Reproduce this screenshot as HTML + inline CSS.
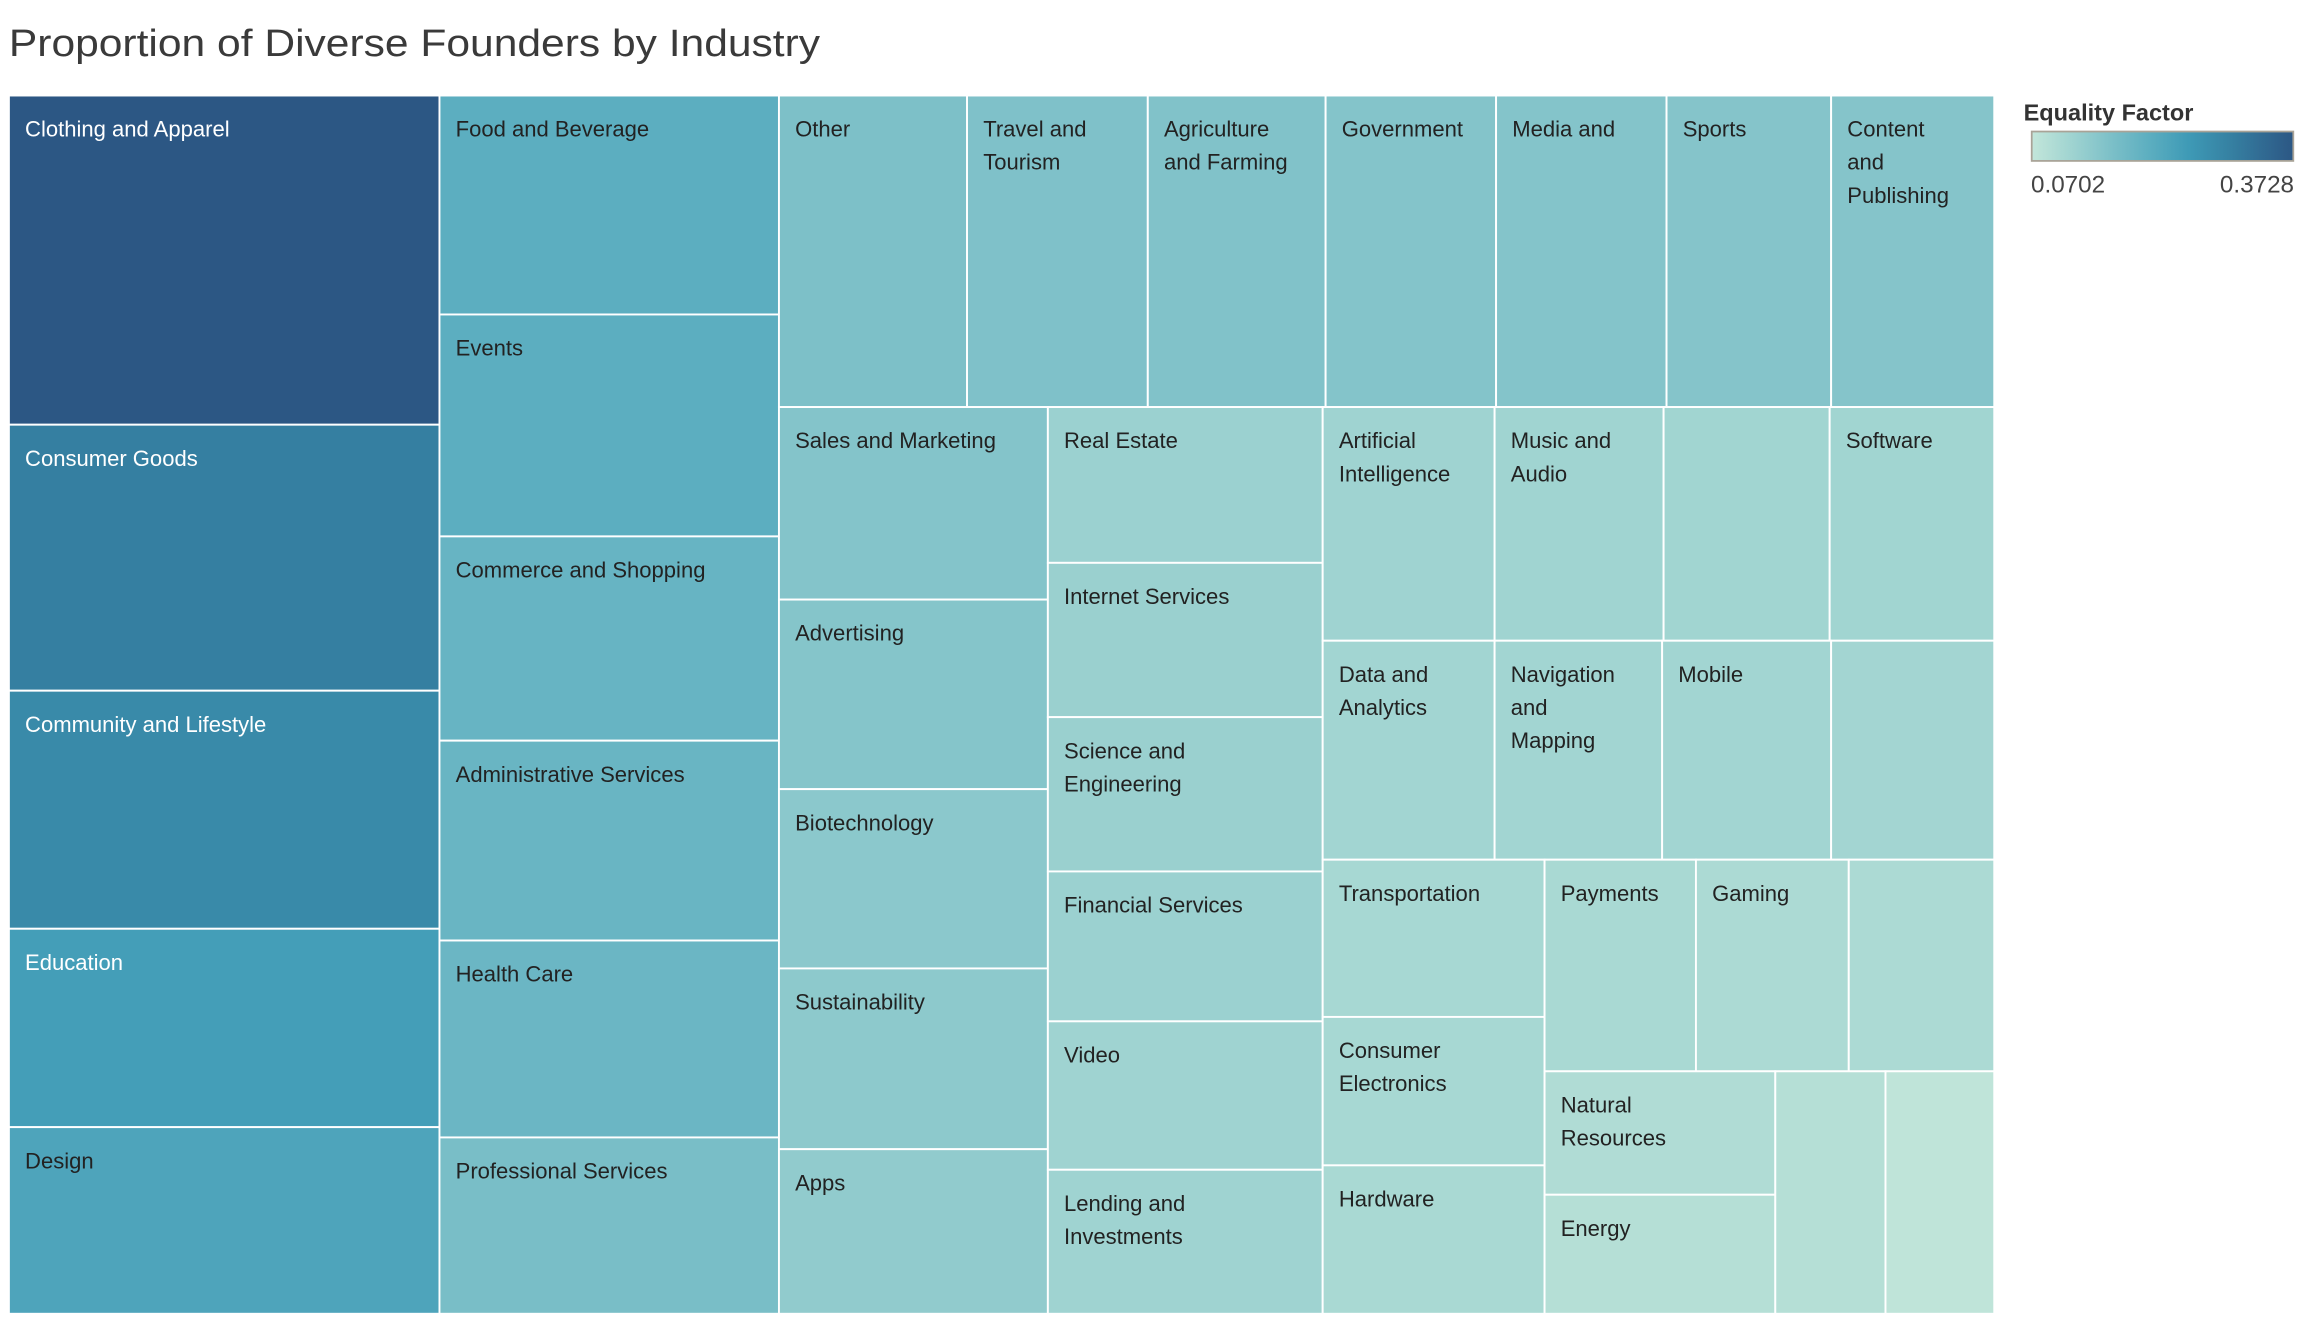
<!DOCTYPE html>
<html><head><meta charset="utf-8">
<style>
html,body{margin:0;padding:0;background:#fff;}
svg{display:block;font-family:"Liberation Sans","DejaVu Sans",sans-serif;}
</style></head>
<body>
<svg id="chart" width="2300" height="1322" viewBox="0 0 1565 899.6" xmlns="http://www.w3.org/2000/svg">
<text x="6" y="38" font-size="26" fill="#3a3a3a" font-weight="300" textLength="552" lengthAdjust="spacingAndGlyphs">Proportion of Diverse Founders by Industry</text>
<g id="tiles"></g>
<g>
<defs><linearGradient id="lg" x1="0" x2="1" y1="0" y2="0"></linearGradient></defs>
<text x="1377" y="82" font-size="16" font-weight="bold" fill="#333">Equality Factor</text>
<rect x="1382.5" y="89.5" width="178" height="20" fill="url(#lg)" stroke="#a9a397" stroke-width="1.2"/>
<text id="lmin" x="1382" y="131" font-size="16.5" fill="#444"></text>
<text id="lmax" x="1561" y="131" font-size="16.5" fill="#444" text-anchor="end"></text>
</g>
</svg>
<script>
const names = ["Clothing and Apparel","Consumer Goods","Community and Lifestyle","Education","Design",
"Food and Beverage","Events","Commerce and Shopping","Administrative Services","Health Care","Professional Services",
"Other","Travel and Tourism","Agriculture and Farming","Government","Media and Entertainment","Sports","Content and Publishing",
"Sales and Marketing","Advertising","Biotechnology","Sustainability","Apps",
"Real Estate","Internet Services","Science and Engineering","Financial Services","Video","Lending and Investments",
"Artificial Intelligence","Music and Audio","Privacy and Security","Software",
"Data and Analytics","Navigation and Mapping","Mobile","Information Technology",
"Transportation","Consumer Electronics","Hardware",
"Payments","Gaming","Manufacturing",
"Natural Resources","Energy","Platforms","Messaging"];
const labels = ["Clothing and Apparel","Consumer Goods","Community and Lifestyle","Education","Design",
"Food and Beverage","Events","Commerce and Shopping","Administrative Services","Health Care","Professional Services",
"Other","Travel and|Tourism","Agriculture|and Farming","Government","Media and","Sports","Content|and|Publishing",
"Sales and Marketing","Advertising","Biotechnology","Sustainability","Apps",
"Real Estate","Internet Services","Science and|Engineering","Financial Services","Video","Lending and|Investments",
"Artificial|Intelligence","Music and|Audio","","Software",
"Data and|Analytics","Navigation|and|Mapping","Mobile","",
"Transportation","Consumer|Electronics","Hardware",
"Payments","Gaming","",
"Natural|Resources","Energy","",""];
const sizes = [65632,53033,47466,39555,37211,
34419,34881,32109,31416,30954,27720,
27136,26076,25652,24592,24592,23744,23532,
23973,23607,22326,22509,20496,
19822,19635,19635,19074,18887,18326,
18603,18285,17967,17808,
17433,16986,17135,16539,
16157,15251,15251,
14832,14976,14256,
13188,12717,12375,12210];
const factors = [0.3728,0.303,0.282,0.243,0.228,
0.206,0.206,0.191,0.188,0.186,0.167,
0.161,0.158,0.156,0.152,0.152,0.151,0.151,
0.152,0.150,0.143,0.140,0.135,
0.122,0.124,0.124,0.122,0.117,0.117,
0.117,0.116,0.114,0.114,
0.113,0.113,0.113,0.112,
0.106,0.106,0.104,
0.104,0.100,0.100,
0.095,0.088,0.089,0.075];
const fMin = 0.0702, fMax = 0.3728;
const tree = {d:'h',k:[
 {d:'v',k:[0,1,2,3,4]},
 {d:'v',k:[5,6,7,8,9,10]},
 {d:'v',k:[
   {d:'h',k:[11,12,13,14,15,16,17]},
   {d:'h',k:[
     {d:'v',k:[18,19,20,21,22]},
     {d:'v',k:[23,24,25,26,27,28]},
     {d:'v',k:[
       {d:'h',k:[29,30,31,32]},
       {d:'h',k:[33,34,35,36]},
       {d:'h',k:[
         {d:'v',k:[37,38,39]},
         {d:'v',k:[
           {d:'h',k:[40,41,42]},
           {d:'h',k:[{d:'v',k:[43,44]},45,46]}
         ]}
       ]}
     ]}
   ]}
 ]}
]};
const stops=[[0,'#c3e6da'],[0.15,'#a0d4d1'],[0.3,'#7dc0c8'],[0.45,'#5caec0'],[0.6,'#3e9ab6'],[0.75,'#3682a3'],[0.88,'#316b93'],[1,'#2c5784']];
function hx(c){return [1,3,5].map(i=>parseInt(c.substr(i,2),16));}
function color(v){
  let t=Math.max(0,Math.min(1,(v-fMin)/(fMax-fMin)));
  for(let i=1;i<stops.length;i++){
    if(t<=stops[i][0]){
      const a=hx(stops[i-1][1]),b=hx(stops[i][1]);const u=(t-stops[i-1][0])/(stops[i][0]-stops[i-1][0]);
      return 'rgb('+a.map((x,j)=>Math.round(x+(b[j]-x)*u)).join(',')+')';
    }
  }
  return stops[stops.length-1][1];
}
function total(n){return typeof n==='number'?sizes[n]:n.k.reduce((s,c)=>s+total(c),0);}
const NS='http://www.w3.org/2000/svg';
const g=document.getElementById('tiles');
function layout(n,x,y,w,h){
  if(typeof n==='number'){draw(n,x,y,w,h);return;}
  const T=total(n);let off=0;
  n.k.forEach(c=>{
    const f=total(c)/T;
    if(n.d==='h'){layout(c,x+off,y,w*f,h);off+=w*f;}
    else{layout(c,x,y+off,w,h*f);off+=h*f;}
  });
}
function draw(i,x,y,w,h){
  const r=document.createElementNS(NS,'rect');
  
  
  r.setAttribute('x',x);r.setAttribute('y',y);r.setAttribute('width',w);r.setAttribute('height',h);
  r.setAttribute('fill',color(factors[i]));r.setAttribute('stroke','#fff');r.setAttribute('stroke-width','1.3');
  g.appendChild(r);
  if(labels[i]){
    const lines=labels[i].split('|');
    const dark=factors[i]>0.235;
    lines.forEach((ln,j)=>{
      const t=document.createElementNS(NS,'text');
      
      
      t.setAttribute('x',x+11);t.setAttribute('y',y+28+j*22.5);
      t.setAttribute('font-size','15');t.setAttribute('fill',dark?'#fff':'#222');
      t.textContent=ln;g.appendChild(t);
    });
  }
}
layout(tree,6,65,1351,829);
const lg=document.getElementById('lg');
stops.forEach(s=>{const st=document.createElementNS(NS,'stop');st.setAttribute('offset',s[0]);st.setAttribute('stop-color',s[1]);lg.appendChild(st);});
document.getElementById('lmin').textContent=fMin.toFixed(4);
document.getElementById('lmax').textContent=fMax.toFixed(4);
</script>
</body></html>
